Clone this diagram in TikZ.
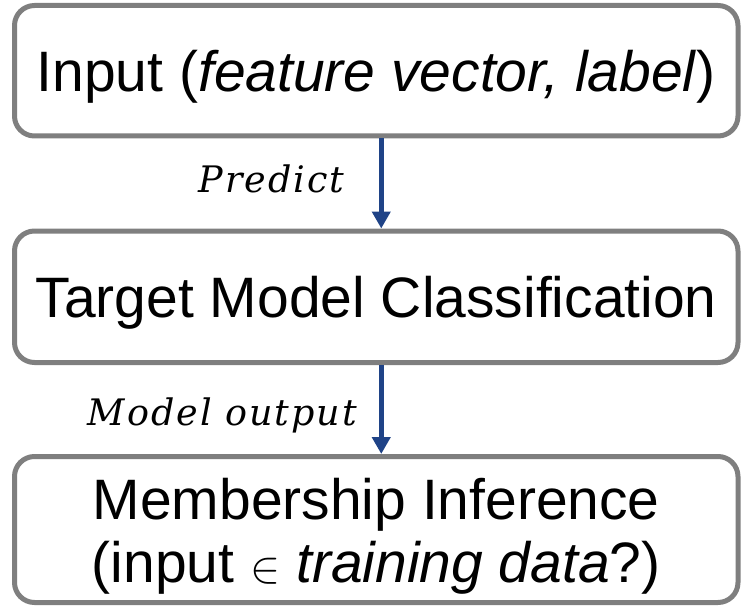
\RequirePackage{fix-cm}
\documentclass[tikz,border=0pt]{standalone}
\usepackage{fontspec}
\setmainfont{Liberation Sans}
\newfontfamily\lblfont[LetterSpace=5.5]{DejaVu Serif}
\usetikzlibrary{arrows.meta}
\definecolor{boxgray}{HTML}{7F7F7F}
\definecolor{arrowblue}{HTML}{1F4387}
\DeclareMathSizes{45}{45}{32}{24}
\begin{document}
\begin{tikzpicture}[x=1pt,y=-1pt,
  box/.style={draw=boxgray, line width=5pt, rounded corners=20pt, fill=white,
    inner sep=0pt, align=center, font=\fontsize{57}{63}\selectfont},
  flow/.style={draw=arrowblue, line width=5pt, -{Triangle[width=18pt,length=17pt]}},
  lbl/.style={anchor=base, inner sep=0pt, font=\lblfont\itshape\fontsize{36.5}{36.5}\selectfont}]
\useasboundingbox (0,0) rectangle (742,607);
\node[box, minimum width=723.5pt, minimum height=130.5pt, text height=42pt, text depth=-4.5pt]
  (inp) at (376.25,70.75) {Input (\textit{feature vector, label})};
\node[box, minimum width=723.5pt, minimum height=131.5pt, text height=42pt, text depth=-0.5pt]
  (mid) at (376.25,296.75) {Target Model Classification};
\node[box, minimum width=723.5pt, minimum height=146pt, text height=105pt, text depth=0pt]
  (mia) at (376.25,529.5) {Membership Inference\\(input {\fontsize{45}{45}\selectfont$\in$} \textit{training data}?)};
\draw[flow] ([xshift=5pt]inp.south) -- ([xshift=5pt]mid.north);
\draw[flow] ([xshift=5pt]mid.south) -- ([xshift=5pt]mia.north);
\node[lbl] (pred) at (271.5,193) {Predict};
\node[lbl] (mout) at (222.5,425) {Model output};
\end{tikzpicture}
\end{document}
